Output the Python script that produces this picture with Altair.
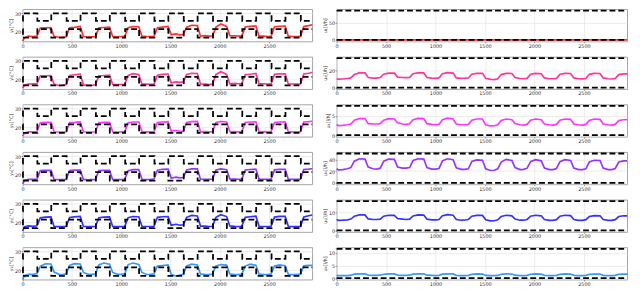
import altair as alt
import pandas as pd

# ---------------- data ----------------
T = [0, 20, 60,
     109, 144, 179, 229, 287, 319, 369,
     406, 441, 476, 526, 584, 616, 666,
     703, 738, 773, 823, 881, 913, 963,
     1000, 1035, 1070, 1120, 1178, 1210, 1260,
     1297, 1332, 1367, 1417, 1475, 1507, 1557,
     1594, 1629, 1664, 1714, 1772, 1804, 1854,
     1891, 1926, 1961, 2011, 2069, 2101, 2151,
     2188, 2223, 2258, 2308, 2366, 2398, 2448,
     2485, 2520, 2555, 2605, 2663, 2695, 2745,
     2782, 2817, 2852, 2902, 2937]

Y1 = [15.3, 17.0, 17.8,
      17.6, 17.8, 22.1, 22.3, 22.4, 17.6, 17.2,
      17.3, 17.5, 22.3, 22.5, 23.0, 17.6, 17.3,
      17.4, 17.5, 22.2, 22.4, 22.6, 17.6, 17.5,
      17.6, 17.6, 22.3, 22.9, 22.8, 17.8, 17.6,
      17.6, 17.7, 22.3, 22.6, 23.0, 18.6, 19.0,
      18.5, 18.7, 22.6, 23.6, 23.4, 17.8, 18.1,
      17.8, 17.9, 22.6, 24.3, 23.0, 18.1, 18.0,
      17.8, 17.8, 22.7, 23.0, 23.3, 17.8, 17.8,
      17.6, 17.7, 22.8, 23.1, 23.2, 17.8, 17.6,
      17.6, 17.7, 22.9, 23.4, 23.9]
Y2 = [15.5, 17.2, 17.6,
      17.8, 17.7, 22.0, 22.1, 22.2, 17.5, 16.9,
      17.0, 17.4, 22.2, 22.6, 22.9, 17.2, 16.8,
      16.9, 17.4, 22.1, 22.2, 22.4, 17.4, 17.4,
      17.4, 17.5, 22.3, 23.2, 22.8, 17.6, 17.6,
      17.5, 17.6, 22.4, 22.8, 23.0, 18.3, 18.8,
      18.6, 18.8, 22.8, 23.4, 23.3, 17.7, 17.6,
      17.4, 17.6, 22.8, 24.2, 22.8, 17.8, 18.0,
      17.8, 17.8, 22.6, 22.9, 23.3, 17.8, 17.8,
      17.6, 17.7, 22.9, 23.1, 23.1, 17.7, 17.7,
      17.6, 17.7, 23.0, 23.4, 23.8]
Y3 = [15.3, 17.0, 17.6,
      17.6, 17.7, 22.4, 22.6, 22.6, 17.6, 17.5,
      17.5, 17.6, 22.5, 22.6, 22.9, 17.6, 17.5,
      17.5, 17.6, 22.4, 22.6, 22.6, 17.6, 17.5,
      17.6, 17.6, 22.4, 22.8, 22.8, 17.7, 17.6,
      17.6, 17.7, 22.6, 22.8, 23.0, 18.0, 18.3,
      17.8, 17.8, 22.6, 23.0, 23.1, 17.6, 17.7,
      17.6, 17.7, 22.6, 23.1, 22.8, 17.8, 17.7,
      17.6, 17.7, 22.6, 22.8, 22.9, 17.6, 17.7,
      17.6, 17.7, 22.6, 22.8, 22.9, 17.6, 17.6,
      17.6, 17.7, 22.8, 23.0, 23.2]
Y4 = [15.3, 17.2, 17.6,
      17.6, 17.7, 22.3, 22.5, 22.4, 17.6, 17.5,
      17.5, 17.6, 22.4, 22.6, 22.6, 17.6, 17.4,
      17.5, 17.6, 22.3, 22.5, 22.4, 17.6, 17.5,
      17.5, 17.6, 22.3, 22.8, 22.8, 17.7, 17.5,
      17.6, 17.8, 22.5, 23.0, 23.1, 18.3, 18.8,
      18.4, 18.6, 22.6, 23.2, 23.3, 17.7, 17.7,
      17.6, 17.7, 22.6, 23.2, 22.8, 17.9, 17.8,
      17.7, 17.7, 22.6, 22.9, 23.1, 17.7, 17.7,
      17.6, 17.7, 22.7, 23.0, 23.0, 17.7, 17.6,
      17.6, 17.7, 22.9, 23.1, 23.3]
Y5 = [15.5, 17.8, 18.2,
      18.0, 18.3, 22.5, 22.9, 23.0, 17.8, 17.8,
      17.8, 17.9, 22.7, 23.0, 23.3, 17.9, 17.8,
      17.8, 17.9, 22.6, 22.9, 23.0, 17.9, 17.8,
      17.8, 17.9, 22.6, 23.2, 23.1, 18.0, 17.9,
      17.9, 18.0, 22.8, 23.1, 23.2, 18.6, 19.1,
      18.6, 18.8, 22.8, 23.8, 23.5, 18.1, 18.1,
      17.9, 18.0, 22.8, 24.2, 23.2, 18.2, 18.0,
      17.9, 18.0, 22.8, 23.1, 23.4, 18.0, 17.9,
      17.9, 18.0, 22.9, 23.3, 23.3, 18.0, 17.8,
      17.8, 17.9, 23.0, 23.6, 24.0]
Y6 = [15.0, 17.2, 17.8,
      17.8, 18.2, 22.0, 23.4, 23.3, 19.0, 17.8,
      17.7, 18.0, 22.6, 23.5, 23.3, 18.8, 17.8,
      17.8, 18.0, 22.8, 23.8, 23.2, 18.8, 17.8,
      17.8, 18.0, 23.0, 23.8, 23.0, 18.8, 17.7,
      17.8, 18.0, 22.2, 22.5, 22.8, 17.8, 16.8,
      17.4, 17.8, 22.3, 23.2, 22.8, 18.0, 17.6,
      17.6, 17.9, 22.3, 23.0, 22.7, 18.0, 17.6,
      17.6, 17.9, 22.2, 23.2, 22.6, 17.9, 17.6,
      17.6, 17.9, 22.3, 22.8, 22.4, 17.8, 17.6,
      17.6, 17.9, 22.3, 22.6, 22.6]

U1 = [0.0] * 71
U2 = [10.5, 10.0, 10.2,
      10.8, 11.5, 15.5, 17.5, 17.5, 12.0, 11.2,
      11.3, 12.0, 16.0, 17.2, 17.2, 12.5, 12.0,
      11.8, 12.2, 16.5, 17.5, 17.5, 12.0, 11.2,
      11.0, 11.5, 16.5, 17.8, 17.2, 11.5, 11.0,
      11.2, 11.5, 16.0, 17.0, 17.0, 11.0, 9.8,
      9.5, 10.5, 15.5, 17.0, 16.8, 12.0, 10.8,
      10.5, 11.0, 16.0, 17.0, 16.5, 11.5, 10.5,
      10.5, 11.0, 16.0, 17.0, 16.8, 11.5, 10.5,
      10.3, 10.8, 15.8, 17.0, 16.8, 11.5, 10.5,
      10.2, 10.8, 15.5, 16.3, 16.3]
U3 = [2.7, 2.5, 2.55,
      2.7, 2.9, 3.9, 4.3, 4.3, 3.0, 2.9,
      2.9, 3.0, 3.9, 4.3, 4.2, 3.2, 2.9,
      2.8, 2.95, 4.0, 4.35, 4.3, 3.0, 2.8,
      2.7, 2.8, 4.0, 4.4, 4.2, 2.9, 2.7,
      2.7, 2.8, 3.9, 4.2, 4.2, 2.7, 2.4,
      2.45, 2.7, 3.8, 4.2, 4.0, 3.0, 2.7,
      2.6, 2.8, 3.9, 4.2, 4.0, 2.9, 2.7,
      2.6, 2.8, 3.9, 4.2, 4.1, 2.9, 2.7,
      2.6, 2.8, 3.8, 4.2, 4.1, 2.9, 2.7,
      2.6, 2.8, 3.8, 4.0, 4.0]
U4 = [24.0, 22.0, 22.5,
      24.0, 26.0, 37.0, 41.0, 40.5, 27.0, 24.0,
      23.5, 25.0, 37.0, 40.5, 40.0, 27.0, 25.0,
      25.0, 26.0, 38.0, 41.0, 40.5, 26.0, 23.5,
      23.5, 24.5, 37.5, 41.0, 39.5, 25.5, 23.0,
      23.0, 24.0, 36.5, 39.0, 38.5, 24.0, 21.0,
      21.5, 24.0, 35.5, 40.0, 38.0, 26.0, 22.5,
      23.0, 25.0, 36.0, 39.5, 37.5, 25.0, 22.5,
      22.5, 24.5, 36.0, 39.5, 38.0, 25.0, 22.5,
      22.5, 24.0, 35.5, 38.5, 38.0, 25.0, 22.5,
      22.5, 24.5, 35.5, 37.5, 37.5]
U5 = [6.0, 5.5, 5.6,
      5.8, 6.2, 7.8, 8.5, 8.5, 6.3, 6.0,
      6.0, 6.2, 7.8, 8.3, 8.2, 6.5, 6.2,
      6.0, 6.2, 7.9, 8.5, 8.4, 6.2, 5.8,
      5.8, 6.0, 8.0, 8.6, 8.3, 6.0, 5.6,
      5.7, 6.0, 7.8, 8.2, 8.2, 5.8, 5.2,
      5.3, 5.8, 7.6, 8.3, 8.0, 6.2, 5.6,
      5.6, 6.0, 7.8, 8.3, 8.0, 6.0, 5.5,
      5.5, 5.9, 7.8, 8.3, 8.1, 6.0, 5.5,
      5.5, 5.9, 7.6, 8.1, 8.0, 6.0, 5.5,
      5.5, 5.9, 7.6, 8.0, 8.0]
U6 = [1.0, 0.95, 0.95,
      1.0, 1.15, 1.55, 1.7, 1.7, 1.2, 1.05,
      1.05, 1.15, 1.5, 1.65, 1.65, 1.2, 1.1,
      1.05, 1.15, 1.55, 1.7, 1.7, 1.15, 1.05,
      1.0, 1.1, 1.55, 1.7, 1.65, 1.1, 1.0,
      1.0, 1.1, 1.5, 1.65, 1.6, 1.05, 0.95,
      0.95, 1.05, 1.5, 1.65, 1.6, 1.15, 1.0,
      1.0, 1.1, 1.5, 1.65, 1.6, 1.1, 1.0,
      1.0, 1.1, 1.5, 1.65, 1.6, 1.1, 1.0,
      1.0, 1.1, 1.5, 1.6, 1.6, 1.1, 1.0,
      1.0, 1.1, 1.5, 1.6, 1.6]

# comfort band (step function)
BOUND_T = [0, 3, 149, 290, 446, 587, 743, 884, 1040, 1181, 1337, 1478,
           1634, 1775, 1931, 2072, 2228, 2369, 2525, 2666, 2822, 2937]
Y_UPPER = [26, 30, 26, 30, 26, 30, 26, 30, 26, 30, 26, 30,
           26, 30, 26, 30, 26, 30, 26, 30, 26, 26]
Y_LOWER = [21.5, 17, 21.5, 17, 21.5, 17, 21.5, 17, 21.5, 17, 21.5, 17,
           21.5, 17, 21.5, 17, 21.5, 17, 21.5, 17, 21.5, 21.5]

U_MAX = [86, 35, 7.6, 50, 16, 11.6]
U_TICKS = [[0, 50], [0, 20], [0, 5], [0, 20, 40], [0, 10], [0, 5, 10]]
Y_TICKS = [20, 30]
X_TICKS = [0, 500, 1000, 1500, 2000, 2500]
X_END = [0, 2937]

Y_SERIES = [Y1, Y2, Y3, Y4, Y5, Y6]
U_SERIES = [U1, U2, U3, U4, U5, U6]
Y_TITLES = ["y₁[°C]", "y₂[°C]", "y₃[°C]", "y₄[°C]", "y₅[°C]", "y₆[°C]"]
U_TITLES = ["u₁[l/h]", "u₂[l/h]", "u₃[l/h]", "u₄[l/h]", "u₅[l/h]", "u₆[l/h]"]
COLORS = ["#ff0000", "#ff0080", "#ff00ff", "#8000ff", "#0000ff", "#0080ff"]

# ---------------- chart ----------------
XMAX = 2937
LW, RW, H = 296, 297, 33
DASH = [6, 3]
BW = 1.8   # bound line width
SW = 1.7   # series line width


def xenc():
    return alt.X("t:Q", scale=alt.Scale(domain=[0, XMAX], nice=False, zero=False),
                 axis=alt.Axis(values=X_TICKS, title=None, format="d", labelFlush=False))


def yenc(field, dom, ticks, title):
    return alt.Y(f"{field}:Q", scale=alt.Scale(domain=dom, nice=False, zero=False),
                 axis=alt.Axis(values=ticks, title=title, format="d"))


def left_panel(i):
    dom = [15, 32.2]
    line_df = pd.DataFrame({"t": T, "v": Y_SERIES[i]})
    b_df = pd.DataFrame({"t": BOUND_T, "up": Y_UPPER, "lo": Y_LOWER})
    line = alt.Chart(line_df).mark_line(color=COLORS[i], strokeWidth=SW, opacity=0.8).encode(
        x=xenc(), y=yenc("v", dom, Y_TICKS, Y_TITLES[i]))
    up = alt.Chart(b_df).mark_line(color="black", strokeDash=DASH, strokeWidth=BW,
                                   interpolate="step-after").encode(
        x=xenc(), y=yenc("up", dom, Y_TICKS, Y_TITLES[i]))
    lo = alt.Chart(b_df).mark_line(color="black", strokeDash=DASH, strokeWidth=BW,
                                   interpolate="step-after").encode(
        x=xenc(), y=yenc("lo", dom, Y_TICKS, Y_TITLES[i]))
    return alt.layer(line, up, lo).properties(width=LW, height=H)


def right_panel(i):
    m = U_MAX[i]
    dom = [-0.05 * m, 1.05 * m]
    line_df = pd.DataFrame({"t": T, "v": U_SERIES[i]})
    b_df = pd.DataFrame({"t": X_END, "up": [m, m], "lo": [0, 0]})
    line = alt.Chart(line_df).mark_line(color=COLORS[i], strokeWidth=SW, opacity=0.8).encode(
        x=xenc(), y=yenc("v", dom, U_TICKS[i], U_TITLES[i]))
    up = alt.Chart(b_df).mark_line(color="black", strokeDash=DASH, strokeWidth=BW).encode(
        x=xenc(), y=yenc("up", dom, U_TICKS[i], U_TITLES[i]))
    lo = alt.Chart(b_df).mark_line(color="black", strokeDash=DASH, strokeWidth=BW).encode(
        x=xenc(), y=yenc("lo", dom, U_TICKS[i], U_TITLES[i]))
    return alt.layer(line, up, lo).properties(width=RW, height=H)


panels = []
for i in range(6):
    panels.append(left_panel(i))
    panels.append(right_panel(i))

chart = alt.concat(*panels, columns=2, spacing={"row": 15.7, "column": 25}, bounds="flush").properties(
    padding={"left": 0, "top": -5, "right": 0, "bottom": 0}
).configure_view(
    stroke="#9a9a9a", strokeWidth=0.9
).configure_axis(
    labelFont="DejaVu Sans", titleFont="DejaVu Sans", labelFontSize=5, titleFontSize=5,
    titleFontWeight="normal", labelColor="#333333", titleColor="#333333",
    tickSize=1.5, tickColor="#555555", tickWidth=0.6, labelPadding=0.5, titlePadding=1,
    domain=False, grid=True, gridColor="#e3e3e3", gridWidth=0.7
)

chart.save("out.html", embed_options={"renderer": "svg", "actions": False})
